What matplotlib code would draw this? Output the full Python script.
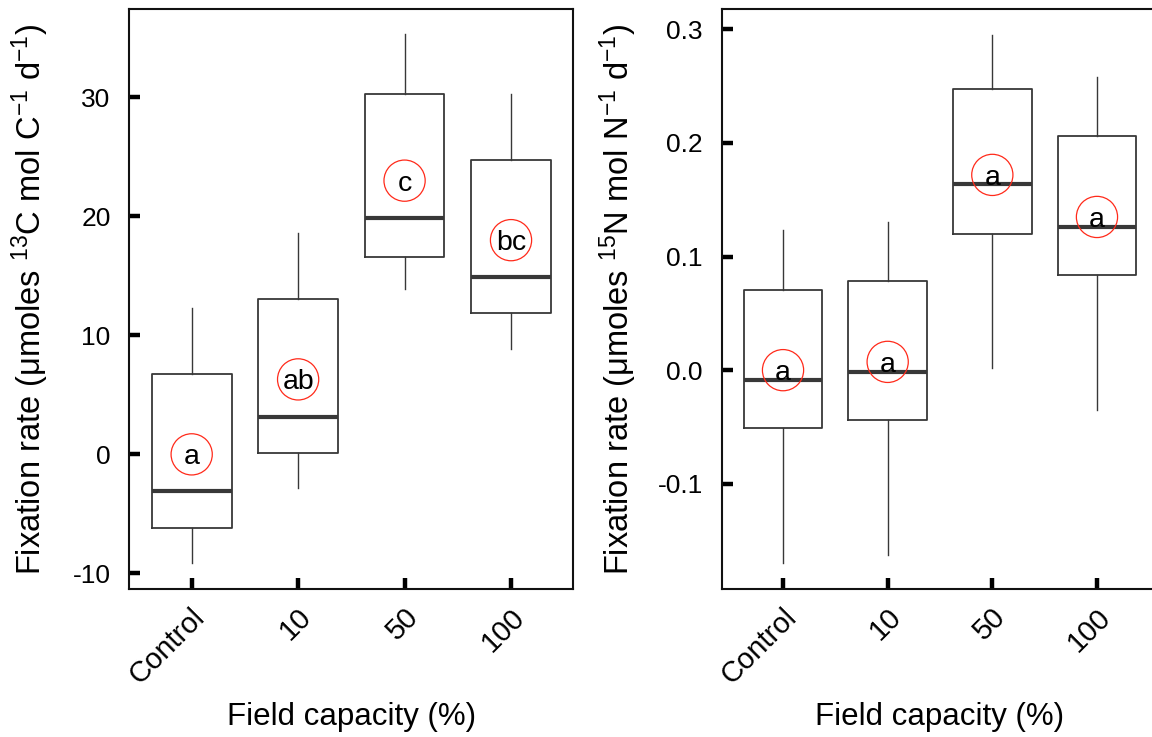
import matplotlib
matplotlib.use("Agg")
import matplotlib.pyplot as plt
import matplotlib.transforms as mtransforms

plt.rcParams['font.family'] = ['Liberation Sans', 'DejaVu Sans']
plt.rcParams['axes.unicode_minus'] = False
plt.rcParams['mathtext.fontset'] = 'custom'
plt.rcParams['mathtext.rm'] = 'Liberation Sans'
plt.rcParams['mathtext.it'] = 'Liberation Sans:italic'
plt.rcParams['mathtext.sf'] = 'Liberation Sans'

categories = ["Control", "10", "50", "100"]

# Carbon panel (umoles 13C mol C-1 d-1)
c_whislo = [-9.16, -2.86, 13.87, 8.88]
c_q1 = [-6.19, 0.10, 16.6, 11.85]
c_med = [-3.11, 3.17, 19.86, 14.9]
c_q3 = [6.72, 13.05, 30.25, 24.7]
c_whishi = [12.3, 18.57, 35.3, 30.3]
c_letters = ["a", "ab", "c", "bc"]
c_letter_y = [0.0, 6.3, 23.0, 18.0]
c_yticks = [-10, 0, 10, 20, 30]

# Nitrogen panel (umoles 15N mol N-1 d-1)
n_whislo = [-0.170, -0.163, 0.0018, -0.0352]
n_q1 = [-0.0507, -0.0437, 0.1196, 0.0838]
n_med = [-0.0088, -0.0012, 0.1636, 0.1263]
n_q3 = [0.0709, 0.0783, 0.2477, 0.2058]
n_whishi = [0.1231, 0.1302, 0.295, 0.2577]
n_letters = ["a", "a", "a", "a"]
n_letter_y = [0.0, 0.0073, 0.1718, 0.1348]
n_yticks = [-0.1, 0.0, 0.1, 0.2, 0.3]
n_yticklabels = ["-0.1", "0.0", "0.1", "0.2", "0.3"]

W, H = 1152, 737
fig = plt.figure(figsize=(W / 100, H / 100), dpi=100)

def px_axes(left, top, right, bottom):
    return fig.add_axes([left / W, 1 - bottom / H, (right - left) / W, (bottom - top) / H])

ax1 = px_axes(129.3, 9.3, 573.4, 589.3)
ax2 = px_axes(721.7, 9.3, 1158.3, 589.3)

ylab_c = r'Fixation rate ($\mathrm{\mu}$moles $^{13}$C mol C$^{-1}$ d$^{-1}$)'
ylab_n = r'Fixation rate ($\mathrm{\mu}$moles $^{15}$N mol N$^{-1}$ d$^{-1}$)'

box_col = '#383838'

def draw(ax, whislo, q1, med, q3, whishi, letters, letter_y, ylim, yticks, yticklabels, ylabel):
    stats = []
    for i in range(len(categories)):
        stats.append(dict(med=med[i], q1=q1[i], q3=q3[i], whislo=whislo[i],
                          whishi=whishi[i], fliers=[], label=categories[i]))
    pos = list(range(1, len(categories) + 1))
    ax.bxp(stats, positions=pos, widths=0.75, showcaps=False, showfliers=False,
           boxprops=dict(color=box_col, linewidth=1.3),
           whiskerprops=dict(color=box_col, linewidth=1.0),
           medianprops=dict(color=box_col, linewidth=3.0, solid_capstyle='butt'))
    ax.scatter(pos, letter_y, s=880, facecolors='none', edgecolors='#ff2a1a',
               linewidths=0.9, zorder=4)
    for p, t, y in zip(pos, letters, letter_y):
        ax.text(p, y, t, ha='center', va='center_baseline', fontsize=20.5, zorder=5)
    ax.set_xlim(1 - 0.586, len(categories) + 0.586)
    ax.set_ylim(*ylim)
    ax.set_xticks(pos)
    ax.set_xticklabels(categories, rotation=45, ha='right', va='center',
                       rotation_mode='anchor', fontsize=21)
    ax.set_yticks(yticks)
    ax.set_yticklabels(yticklabels, fontsize=19)
    ax.tick_params(direction='in', length=8, width=3.2, color='black')
    ax.tick_params(axis='y', pad=13.5)
    ax.tick_params(axis='x', pad=17)
    offset = mtransforms.ScaledTranslation(9 / 100, 0, fig.dpi_scale_trans)
    for lab in ax.get_xticklabels():
        lab.set_transform(lab.get_transform() + offset)
    for s in ax.spines.values():
        s.set_linewidth(1.5)
        s.set_color('#111111')
    ax.set_xlabel('Field capacity (%)', fontsize=22.5, va='baseline')
    ax.set_ylabel(ylabel, fontsize=23.5)
    ax.xaxis.set_label_coords(0.5, -0.234)

draw(ax1, c_whislo, c_q1, c_med, c_q3, c_whishi, c_letters, c_letter_y,
     (-11.34, 37.4), c_yticks, [str(v) for v in c_yticks], ylab_c)
draw(ax2, n_whislo, n_q1, n_med, n_q3, n_whishi, n_letters, n_letter_y,
     (-0.1928, 0.3175), n_yticks, n_yticklabels, ylab_n)
ax1.yaxis.set_label_coords(-0.176, 0.5)
ax2.yaxis.set_label_coords(-0.189, 0.5)

fig.savefig('out.png', dpi=100)
